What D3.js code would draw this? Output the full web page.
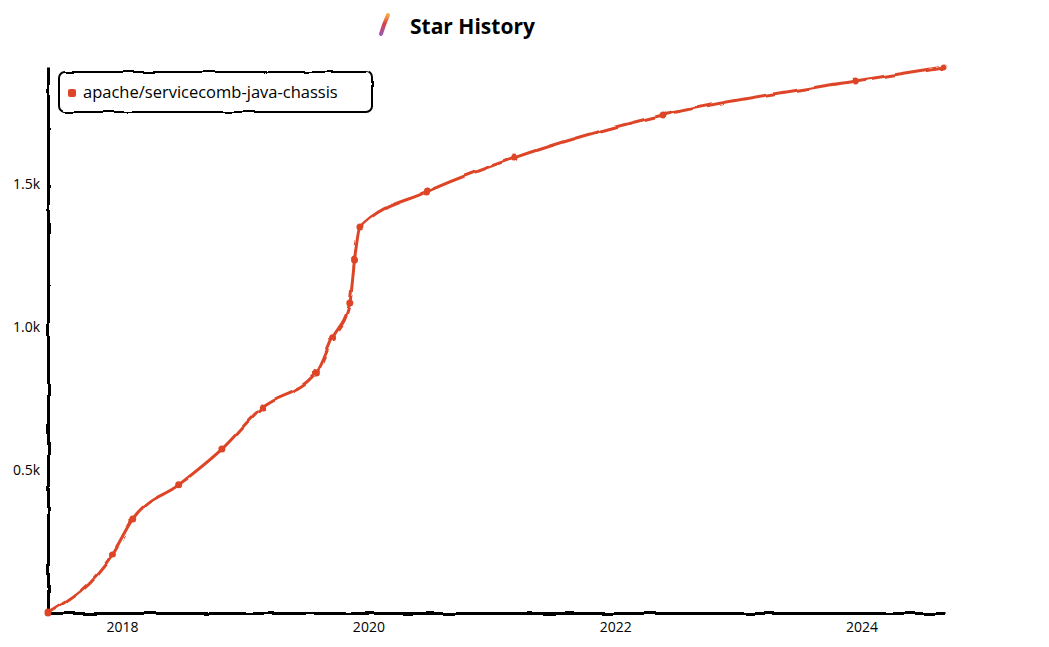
<!DOCTYPE html>
<html>
<head>
<meta charset="utf-8">
<script src="https://cdn.jsdelivr.net/npm/d3@7"></script>
<style>
  body { margin: 0; background: #fff; }
  text { font-family: "Open Sans", sans-serif; }
</style>
</head>
<body>
<div id="svg"></div>
<script>
  var w = 1049;
  var h = 647;

  // star history of one repo
  var repoName = "apache/servicecomb-java-chassis";
  var dates = ["2017-05-27", "2017-12-04", "2018-02-02", "2018-06-18", "2018-10-24",
               "2019-02-21", "2019-07-31", "2019-09-17", "2019-11-07", "2019-11-21",
               "2019-12-07", "2020-06-21", "2021-03-07", "2022-05-23", "2023-12-13",
               "2024-09-01"];
  var stars = [0, 206, 329, 448, 573, 720, 839, 962, 1084, 1234, 1350, 1472, 1591, 1741, 1860, 1909];
  var yTicks = [500, 1000, 1500];
  var yTickLabels = ["0.5k", "1.0k", "1.5k"];
  var xTicks = ["2018-01-01", "2020-01-01", "2022-01-01", "2024-01-01"];

  const margin = {left: 48, right: 105, top: 65, bottom: 34};
  const lineColor = "#dd4528";

  const svg = d3.select("#svg")
                .append("svg")
                .attr("width", w)
                .attr("height", h);

  // hand drawn wobble
  var defs = svg.append("defs");
  var f = defs.append("filter").attr("id", "xkcdify")
    .attr("filterUnits", "userSpaceOnUse")
    .attr("x", -5).attr("y", -5).attr("width", "100%").attr("height", "100%");
  f.append("feTurbulence").attr("type", "fractalNoise").attr("baseFrequency", 0.05).attr("result", "noise");
  f.append("feDisplacementMap").attr("scale", 4).attr("xChannelSelector", "R")
    .attr("yChannelSelector", "G").attr("in", "SourceGraphic").attr("in2", "noise");

  var grad = defs.append("linearGradient").attr("id", "feather")
    .attr("x1", 0).attr("y1", 0).attr("x2", 0).attr("y2", 1);
  grad.append("stop").attr("offset", "0%").attr("stop-color", "#f69923");
  grad.append("stop").attr("offset", "45%").attr("stop-color", "#d22128");
  grad.append("stop").attr("offset", "100%").attr("stop-color", "#8a3a9e");

  var parse = d3.timeParse("%Y-%m-%d");
  var data = dates.map(function(d, i) {
    return {date: parse(d), value: stars[i]};
  });

  var xScale = d3.scaleTime()
    .domain(d3.extent(data, function(d) { return d.date; }))
    .range([margin.left, w - margin.right]);

  var yScale = d3.scaleLinear()
    .domain([0, d3.max(stars)])
    .range([h - margin.bottom, margin.top + 2]);

  // title
  svg.append("path")
    .attr("d", "M388,15 Q384,24 381,34")
    .attr("stroke", "url(#feather)")
    .attr("stroke-width", 4)
    .attr("stroke-linecap", "round")
    .attr("opacity", 0.85)
    .attr("fill", "none");
  svg.append("text")
    .attr("x", 410)
    .attr("y", 34)
    .attr("font-size", 21)
    .attr("font-weight", "bold")
    .text("Star History");

  // axes
  var xAxis = d3.axisBottom(xScale)
    .tickValues(xTicks.map(parse))
    .tickFormat(d3.timeFormat("%Y"))
    .tickSize(0)
    .tickPadding(9);
  var xAxisGroup = svg.append('g')
    .attr('id', 'x-axis')
    .attr('transform', 'translate(0,' + (h - margin.bottom) + ')')
    .call(xAxis);

  var yAxis = d3.axisLeft(yScale)
    .tickValues(yTicks)
    .tickFormat(function(d, i) { return yTickLabels[i]; })
    .tickSize(0)
    .tickPadding(8);
  var yAxisGroup = svg.append('g')
    .attr('id', 'y-axis')
    .attr('transform', 'translate(' + margin.left + ',0)')
    .call(yAxis);

  svg.selectAll(".domain")
    .attr("stroke", "#000")
    .attr("stroke-width", 3)
    .attr("filter", "url(#xkcdify)");
  svg.selectAll(".tick text")
    .attr("font-family", "Open Sans, sans-serif")
    .attr("font-size", 14)
    .attr("fill", "#000");

  // the line
  var line = d3.line()
    .x(function(d) { return xScale(d.date); })
    .y(function(d) { return yScale(d.value); })
    .curve(d3.curveMonotoneX);

  var plot = svg.append("g").attr("filter", "url(#xkcdify)");
  plot.append("path")
    .datum(data)
    .attr("d", line)
    .attr("fill", "none")
    .attr("stroke", lineColor)
    .attr("stroke-width", 3)
    .attr("stroke-linecap", "round");

  plot.selectAll("circle.dot")
    .data(data)
    .enter()
    .append("circle")
    .attr("class", "dot")
    .attr("cx", function(d) { return xScale(d.date); })
    .attr("cy", function(d) { return yScale(d.value); })
    .attr("r", 3.5)
    .attr("fill", lineColor)
    .append("title")
    .text(function(d) { return d.value; });

  // legend
  var legend = svg.append("g").attr("transform", "translate(59,72)");
  legend.append("rect")
    .attr("width", 313)
    .attr("height", 40)
    .attr("rx", 6)
    .attr("fill", "#fff")
    .attr("stroke", "#000")
    .attr("stroke-width", 2)
    .attr("filter", "url(#xkcdify)");
  legend.append("rect")
    .attr("x", 9).attr("y", 17)
    .attr("width", 8).attr("height", 8)
    .attr("rx", 2)
    .attr("fill", lineColor);
  legend.append("text")
    .attr("x", 24)
    .attr("y", 26)
    .attr("font-size", 16.5)
    .text(repoName);
</script>
</body>
</html>
